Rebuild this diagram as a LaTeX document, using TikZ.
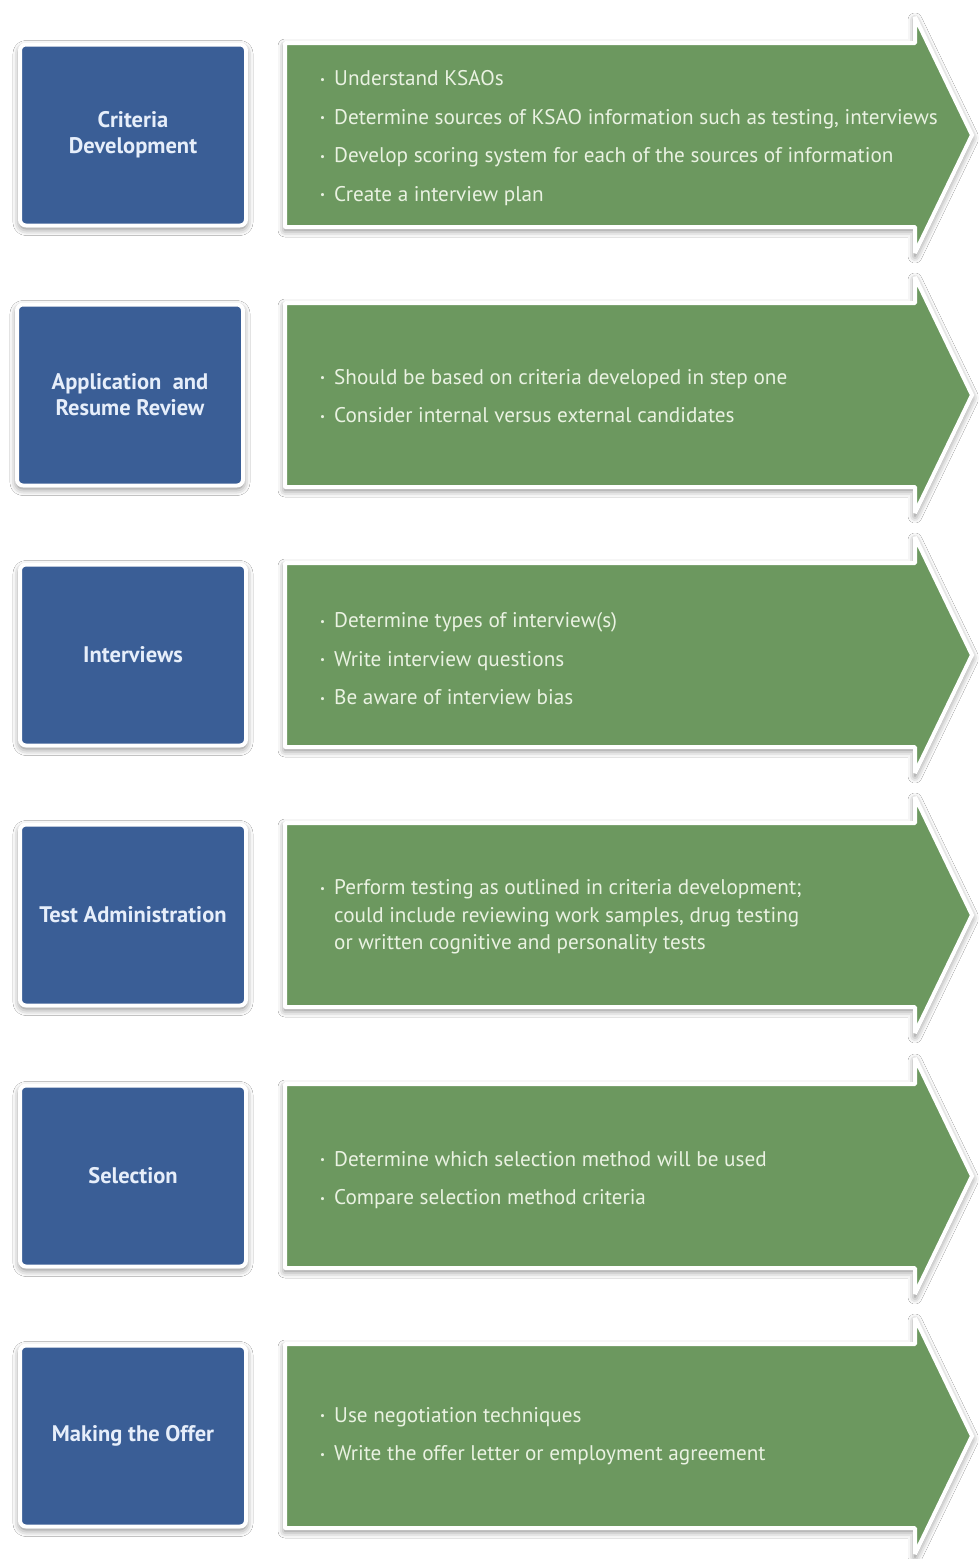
\documentclass[tikz,border=0pt]{standalone}
\usepackage{fontspec}
\setmainfont{PT Sans}
\usetikzlibrary{shadows.blur}
\definecolor{boxblue}{RGB}{58,94,150}
\definecolor{arrgreen}{RGB}{108,152,95}
\definecolor{bluetxt}{RGB}{230,238,250}
\definecolor{greentxt}{RGB}{234,242,226}
\newcommand{\bul}{\makebox[14pt][l]{\raisebox{2.5pt}{\fontsize{11}{11}\selectfont •}}}
\newcommand{\greenarrow}[1]{%
  \path[arrowshape] (285,{#1-92}) -- (915,{#1-92}) -- (915,{#1-118}) -- (972,{#1}) -- (915,{#1+118}) -- (915,{#1+92}) -- (285,{#1+92}) -- cycle;}
\tikzset{
  stepbox/.style={draw=white, line width=4pt, fill=boxblue, rounded corners=6pt,
    blur shadow={shadow xshift=0pt, shadow yshift=-3pt, shadow blur radius=7pt, shadow opacity=55},
    minimum width=226pt, minimum height=181pt, text=bluetxt,
    font=\bfseries\fontsize{22.5}{26}\selectfont, align=center, inner sep=2pt},
  arrowshape/.style={draw=white, line width=4pt, fill=arrgreen, line join=bevel,
    blur shadow={shadow xshift=0pt, shadow yshift=-3pt, shadow blur radius=7pt, shadow opacity=55}},
  bullets/.style={anchor=west, inner sep=0pt, text=greentxt, align=left,
    font=\fontsize{21.2}{27.5}\selectfont}
}
\begin{document}
\begin{tikzpicture}[x=1pt,y=-1pt]
\useasboundingbox (0,0) rectangle (978,1559);
\fill[white] (0,0) rectangle (978,1559);

% row 1
\greenarrow{135}
\node[stepbox] (b1) at (133,135) {Criteria\\Development};
\node[bullets] (t1) at (320,138) {\bul Understand KSAOs\\[11pt]
\bul Determine sources of KSAO information such as testing, interviews\\[11pt]
\bul Develop scoring system for each of the sources of information\\[11pt]
\bul Create a interview plan};

% row 2
\greenarrow{395}
\node[stepbox] (b2) at (130,395) {Application\ \ and\\Resume Review};
\node[bullets] (t2) at (320,396) {\bul Should be based on criteria developed in step one\\[11pt]
\bul Consider internal versus external candidates};

% row 3
\greenarrow{655}
\node[stepbox] (b3) at (133,655) {Interviews};
\node[bullets] (t3) at (320,659) {\bul Determine types of interview(s)\\[11pt]
\bul Write interview questions\\[11pt]
\bul Be aware of interview bias};

% row 4
\greenarrow{915}
\node[stepbox] (b4) at (133,915) {Test Administration};
\node[bullets] (t4) at (320,917) {\bul Perform testing as outlined in criteria development;\\
\hspace*{14pt}could include reviewing work samples, drug testing\\
\hspace*{14pt}or written cognitive and personality tests};

% row 5
\greenarrow{1176}
\node[stepbox] (b5) at (133,1176) {Selection};
\node[bullets] (t5) at (320,1180) {\bul Determine which selection method will be used\\[11pt]
\bul Compare selection method criteria};

% row 6
\greenarrow{1436}
\node[stepbox] (b6) at (133,1436) {Making the Offer};
\node[bullets] (t6) at (320,1436) {\bul Use negotiation techniques\\[11pt]
\bul Write the offer letter or employment agreement};
\end{tikzpicture}
\end{document}
